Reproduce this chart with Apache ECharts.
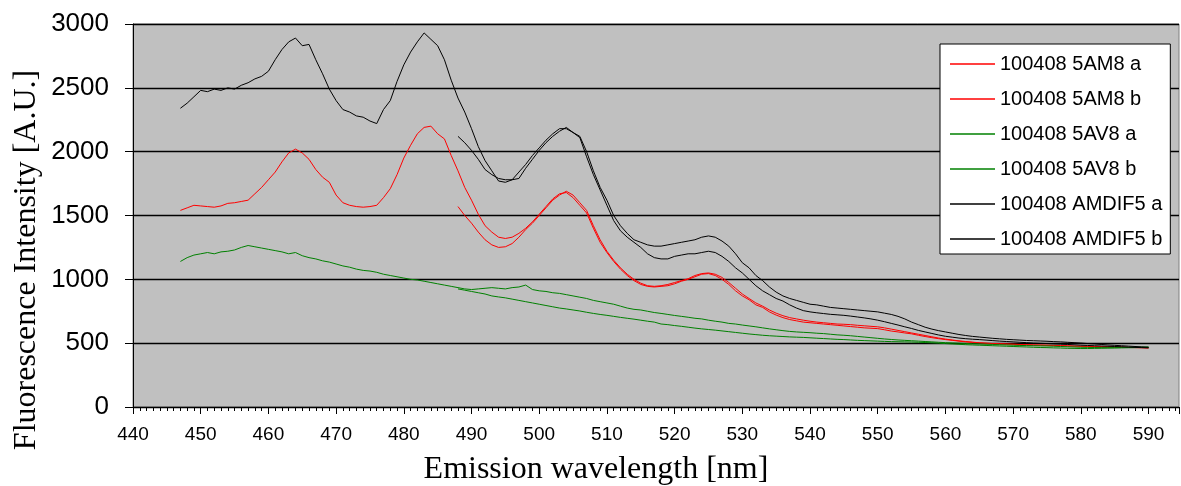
<!DOCTYPE html>
<html><head><meta charset="utf-8">
<script src="https://cdn.jsdelivr.net/npm/echarts@6/dist/echarts.min.js"></script>
<style>html,body{margin:0;padding:0;background:#fff}#c{width:1181px;height:486px}</style>
</head><body><div id="c"></div>
<script>
// wavelength grid (nm)
function range(a, b) { const r = []; for (let v = a; v <= b; v++) r.push(v); return r; }
const wlA = range(447, 590);
const wlB = range(488, 590);

const seriesNames = ['100408 5AM8 a', '100408 5AM8 b', '100408 5AV8 a', '100408 5AV8 b', '100408 AMDIF5 a', '100408 AMDIF5 b'];
const yTicks = [0, 500, 1000, 1500, 2000, 2500, 3000];
const xTicks = [440, 450, 460, 470, 480, 490, 500, 510, 520, 530, 540, 550, 560, 570, 580, 590];

const am8a = [
1540,1560,1580,1575,1570,1565,1575,1595,1600,1610,
1620,1670,1720,1780,1840,1920,1990,2020,1990,1940,
1860,1800,1760,1660,1600,1580,1570,1565,1570,1580,
1640,1710,1820,1950,2050,2140,2190,2200,2140,2100,
1970,1850,1720,1620,1510,1420,1370,1330,1320,1330,
1360,1400,1450,1510,1570,1630,1670,1680,1640,1580,
1520,1400,1290,1210,1140,1080,1030,990,960,945,
940,945,950,965,985,1000,1020,1040,1045,1030,
1000,960,910,870,840,800,780,745,720,700,
685,675,665,660,655,650,645,640,635,630,
625,620,617,614,605,595,588,580,573,562,
552,543,535,528,522,516,510,506,502,499,
497,495,493,492,490,488,486,485,484,483,
481,479,477,476,475,473,472,471,470,469,
467,466,465,464];
const am8b = [
1570,1500,1440,1370,1310,1270,1250,1255,1280,1330,
1390,1440,1500,1560,1620,1660,1690,1660,1600,1540,
1420,1310,1220,1150,1090,1040,1000,970,950,945,
950,960,975,990,1005,1030,1045,1050,1040,1015,
975,930,885,850,815,790,760,735,715,700,
690,680,672,665,660,655,650,648,645,640,
636,632,628,620,610,600,590,580,570,560,
550,540,532,525,518,513,508,503,500,497,
495,493,491,489,487,485,484,483,481,480,
478,476,475,474,472,471,470,469,468,466,
465,464,462];
const av8a = [
1140,1170,1190,1200,1210,1200,1215,1220,1230,1250,
1265,1255,1245,1235,1225,1215,1200,1210,1185,1170,
1160,1145,1135,1120,1105,1095,1080,1070,1065,1055,
1040,1030,1020,1010,1000,995,985,975,965,955,
945,935,925,920,925,930,935,930,925,935,
940,955,920,910,905,895,890,880,870,860,
850,835,825,815,805,790,775,765,760,750,
740,733,725,717,710,703,695,690,680,672,
665,655,650,642,635,628,620,612,605,598,
592,588,585,582,578,575,570,565,562,558,
553,548,543,538,533,529,525,522,519,516,
513,510,507,504,502,500,498,496,494,492,
490,488,486,484,482,481,480,479,478,476,
474,472,470,468,467,466,465,465,465,466,
467,468,469,470];
const av8b = [
925,915,905,895,885,870,862,855,845,835,
825,815,805,795,785,775,768,760,752,742,
733,725,718,710,702,695,688,680,672,665,
650,645,638,632,625,618,612,607,602,596,
590,584,578,572,567,562,558,555,552,549,
547,545,542,539,536,533,530,528,525,522,
520,518,516,514,512,511,510,509,507,505,
503,500,497,494,491,488,486,484,482,480,
478,476,474,472,470,468,466,465,463,462,
460,459,458,458,459,460,461,462,463,464,
465,466,467];
const amdifa = [
2340,2380,2430,2480,2470,2490,2480,2500,2490,2520,
2540,2570,2590,2630,2720,2800,2860,2890,2830,2840,
2720,2610,2490,2400,2330,2310,2280,2270,2240,2220,
2330,2400,2550,2680,2780,2860,2930,2880,2830,2720,
2560,2420,2310,2180,2040,1930,1850,1770,1760,1780,
1840,1900,1970,2030,2090,2140,2180,2180,2150,2120,
2000,1850,1720,1620,1500,1420,1360,1310,1290,1270,
1260,1260,1270,1280,1290,1300,1310,1330,1340,1330,
1300,1260,1200,1130,1090,1030,990,940,900,870,
850,835,820,805,800,790,780,775,770,765,
760,755,750,745,735,725,710,690,665,645,
625,610,598,588,578,568,560,553,548,543,
538,534,530,527,524,521,519,517,515,512,
510,507,504,501,497,494,490,486,483,480,
477,474,471,468];
const amdifb = [
2120,2070,2010,1940,1860,1820,1790,1780,1780,1790,
1870,1940,2010,2070,2120,2160,2190,2150,2110,1960,
1820,1700,1580,1460,1380,1330,1290,1250,1200,1170,
1160,1160,1180,1190,1200,1200,1210,1220,1210,1180,
1140,1090,1050,1000,950,910,880,850,830,800,
775,755,745,738,732,726,722,718,712,705,
698,690,680,668,655,642,628,615,600,588,
576,564,554,547,540,535,531,528,524,520,
516,513,510,507,504,501,499,497,494,492,
490,487,484,482,480,478,476,474,472,469,
467,465,463];

const seriesVals = [am8a, am8b, av8a, av8b, amdifa, amdifb];
const seriesWl = [wlA, wlB, wlA, wlB, wlA, wlB];
const colors = ['#ff0000', '#ff0000', '#008000', '#008000', '#000000', '#000000'];

const chart = echarts.init(document.getElementById('c'), null, { renderer: 'canvas' });
const series = seriesNames.map((n, k) => ({
  name: n, type: 'line', symbol: 'none', showSymbol: false, animation: false,
  lineStyle: { color: colors[k], width: 1 }, itemStyle: { color: colors[k] },
  data: seriesWl[k].map((w, i) => [w, seriesVals[k][i]])
}));

chart.setOption({
  animation: false,
  grid: { left: 133, top: 24, right: 2, bottom: 79, show: true, backgroundColor: '#c0c0c0', borderColor: '#808080', borderWidth: 1 },
  xAxis: {
    type: 'value', min: 440, max: 594.5, interval: 10,
    axisLine: { show: true, onZero: false, lineStyle: { color: '#000', width: 1 } },
    axisTick: { show: true, length: 7, lineStyle: { color: '#000' } },
    minorTick: { show: true, splitNumber: 10, length: 4, lineStyle: { color: '#000' } },
    splitLine: { show: false },
    axisLabel: { color: '#000', fontSize: 19, fontFamily: 'Liberation Sans', margin: 18, showMaxLabel: false,
      formatter: v => (xTicks.indexOf(v) >= 0 ? String(v) : '') }
  },
  yAxis: {
    type: 'value', min: 0, max: 3000, interval: 500,
    axisLine: { show: true, lineStyle: { color: '#000', width: 1 } },
    axisTick: { show: true, length: 8, lineStyle: { color: '#000' } },
    splitLine: { show: true, lineStyle: { color: '#000', width: 1.3 } },
    axisLabel: { color: '#000', fontSize: 26, fontFamily: 'Liberation Sans', margin: 24,
      formatter: v => (yTicks.indexOf(v) >= 0 ? String(v) : '') }
  },
  legend: {
    data: seriesNames.map((n, k) => ({ name: n, icon: 'rect', itemStyle: { color: colors[k], borderWidth: 0 } })),
    orient: 'vertical', left: 940, top: 44,
    backgroundColor: '#ffffff', borderColor: '#000', borderWidth: 1,
    padding: [10, 8, 5, 10], itemWidth: 45, itemHeight: 1.5, itemGap: 15,
    textStyle: { color: '#000', fontSize: 20, fontFamily: 'Liberation Sans', lineHeight: 20 }
  },
  graphic: [
    { type: 'text', x: 596, y: 470, style: { text: 'Emission wavelength [nm]', font: '32px "Liberation Serif"', fill: '#000', textAlign: 'center', textVerticalAlign: 'middle' } },
    { type: 'text', x: 27, y: 260, rotation: Math.PI / 2, style: { text: 'Fluorescence Intensity [A.U.]', font: '32px "Liberation Serif"', fill: '#000', textAlign: 'center', textVerticalAlign: 'middle' } }
  ],
  series: series
});
</script>
</body></html>
